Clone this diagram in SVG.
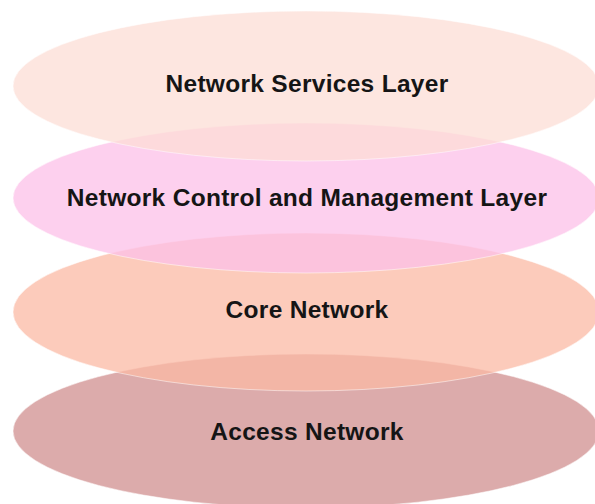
<svg xmlns="http://www.w3.org/2000/svg" width="595" height="504" viewBox="0 0 595 504">
<style>
.layer{fill-opacity:0.75;stroke:#ffffff;stroke-opacity:0.5;stroke-width:1}
.lbl{font-family:"Liberation Sans",Arial,sans-serif;font-weight:bold;font-size:24.5px;letter-spacing:0.3px;fill:#151515;text-anchor:middle}
</style>
<rect width="595" height="504" fill="#ffffff"/>
<g id="access-network">
<ellipse class="layer" cx="306" cy="431" rx="293" ry="77" fill="#d08f8f"/>
<text class="lbl" x="307" y="440">Access Network</text>
</g>
<g id="core-network">
<ellipse class="layer" cx="306" cy="312" rx="293" ry="79" fill="#fbbaa4"/>
<text class="lbl" x="307" y="318">Core Network</text>
</g>
<g id="network-control">
<ellipse class="layer" cx="306" cy="198" rx="293" ry="75" fill="#fcc0e8"/>
<text class="lbl" x="307" y="206">Network Control and Management Layer</text>
</g>
<g id="network-services">
<ellipse class="layer" cx="306" cy="86" rx="293" ry="75" fill="#fcded6"/>
<text class="lbl" x="307" y="92">Network Services Layer</text>
</g>
<g id="connectors"></g>
</svg>
